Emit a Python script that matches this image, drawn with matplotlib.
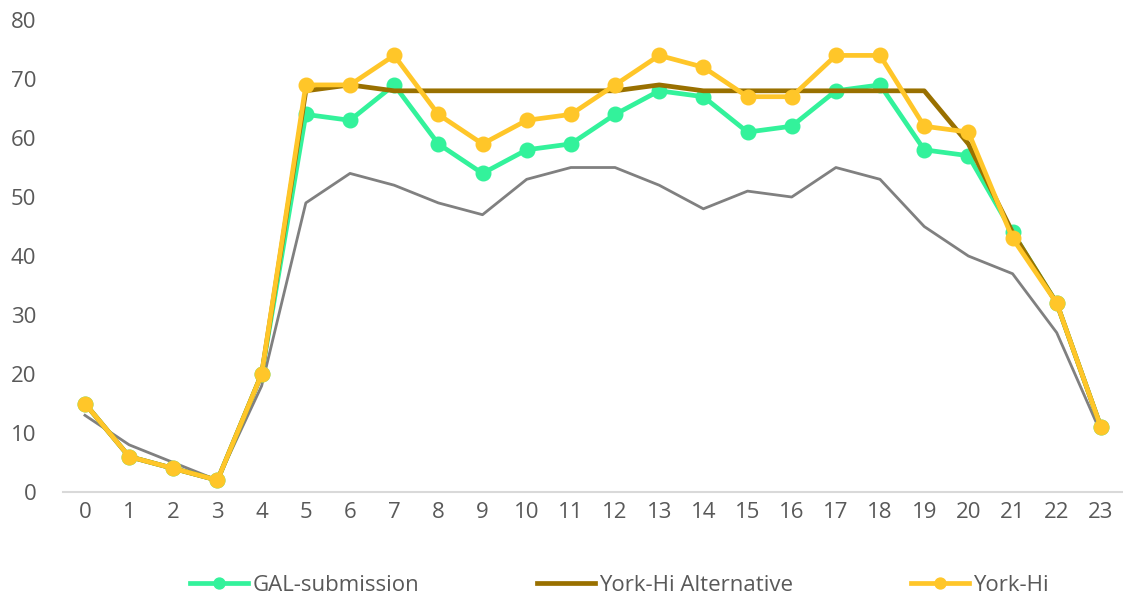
import matplotlib
matplotlib.use("Agg")
import matplotlib.pyplot as plt

hours = list(range(24))
gal = [15, 6, 4, 2, 20, 64, 63, 69, 59, 54, 58, 59, 64, 68, 67, 61, 62, 68, 69, 58, 57, 44, 32, 11]
york_alt = [15, 6, 4, 2, 20, 68, 69, 68, 68, 68, 68, 68, 68, 69, 68, 68, 68, 68, 68, 68, 59, 44, 32, 11]
york = [15, 6, 4, 2, 20, 69, 69, 74, 64, 59, 63, 64, 69, 74, 72, 67, 67, 74, 74, 62, 61, 43, 32, 11]
baseline = [13, 8, 5, 2, 18, 49, 54, 52, 49, 47, 53, 55, 55, 52, 48, 51, 50, 55, 53, 45, 40, 37, 27, 10]

plt.rcParams['font.family'] = ['Open Sans', 'DejaVu Sans']

fig = plt.figure(figsize=(11.23, 5.99), dpi=100)
ax = fig.add_axes([0.056, 0.1786, 0.944, 0.788])

ax.plot(hours, baseline, color='#808080', lw=2.0, zorder=2)
ax.plot(hours, gal, color='#33F29B', lw=3.4, marker='o', ms=10.5, label='GAL-submission', zorder=3)
ax.plot(hours, york_alt, color='#997000', lw=3.4, label='York-Hi Alternative', zorder=4)
ax.plot(hours, york, color='#FFC629', lw=3.4, marker='o', ms=10.5, label='York-Hi', zorder=5)

ax.set_xlim(-0.5, 23.5)
ax.set_ylim(0, 80)
ax.set_xticks(hours)
ax.set_yticks(range(0, 81, 10))
for s in ['top', 'right', 'left']:
    ax.spines[s].set_visible(False)
ax.spines['bottom'].set_color('#D9D9D9')
ax.spines['bottom'].set_linewidth(1.5)
ax.tick_params(length=0, labelsize=16, labelcolor='#595959')
ax.tick_params(axis='x', pad=7)
ax.tick_params(axis='y', pad=19)

leg = ax.legend(loc='center', bbox_to_anchor=(0.525, -0.197), ncol=3, frameon=False,
                fontsize=16, labelcolor='#595959', columnspacing=5.3, handlelength=2.6,
                handletextpad=0.2, markerscale=0.75)

fig.savefig('out.png', dpi=100)
